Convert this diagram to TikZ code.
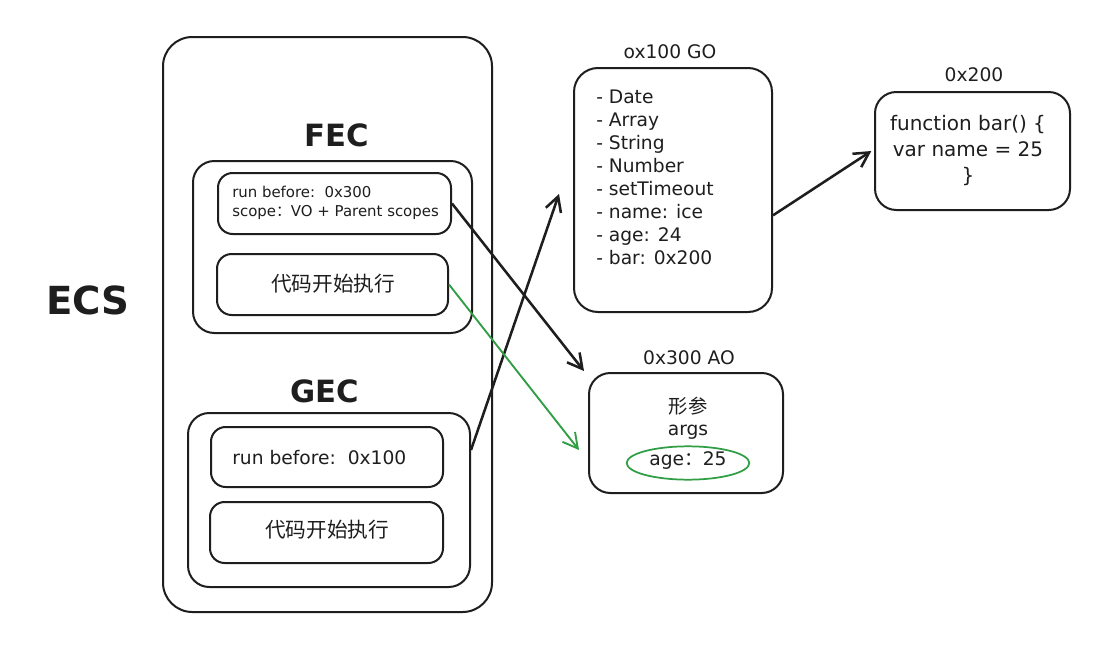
\documentclass[tikz,border=0pt]{standalone}
\usepackage{fontspec}
\setmainfont{DejaVu Sans}
\newfontfamily\cjk{Noto Sans CJK SC}
\usetikzlibrary{arrows.meta,shapes.geometric,fit}
\definecolor{ink}{HTML}{1E1E1E}
\definecolor{grn}{HTML}{2F9E44}
\begin{document}
\begin{tikzpicture}[x=0.75pt,y=-0.75pt,
  box/.style={draw=ink, line width=1.5pt, rounded corners=12pt, inner sep=0pt},
  lbl/.style={text=ink, inner sep=0pt},
  arr/.style={draw=ink, line width=1.9pt, -{Straight Barb[length=11pt,width=12pt]}},
  garr/.style={draw=grn, line width=1.4pt, -{Straight Barb[length=11pt,width=12pt]}},
  big/.style={font=\fontsize{29}{29}\selectfont\bfseries},
  head/.style={font=\fontsize{23}{23}\selectfont\bfseries},
  small/.style={font=\fontsize{11.2}{14.5}\selectfont},
  mid/.style={font=\fontsize{14}{17.25}\selectfont},
  cjkt/.style={font=\cjk\fontsize{15.5}{16}\selectfont},
]
\useasboundingbox[fill=white] (0,0) rectangle (1118,664);

% ECS stack
\node[box, rounded corners=22pt, fit={(163,37)(492,612)}] (ecs) {};
\node[lbl, big] (ecslbl) at (88,300) {ECS};

% FEC
\node[lbl, head] (feclbl) at (337,135) {FEC};
\node[box, rounded corners=16pt, fit={(193,161)(472,333)}] (fec) {};
\node[box, rounded corners=11pt, fit={(218,173)(451,234)}] (fec1) {};
\node[lbl, small, anchor=west, align=left] (fec1t) at (232,203) {run before:~~0x300\\scope{\cjk ：}VO + Parent scopes};
\node[box, rounded corners=11pt, fit={(217,254)(448,315)}] (fec2) {};
\node[lbl, cjkt] (fec2t) at (333,284) {代码开始执行};

% GEC
\node[lbl, head] (geclbl) at (325,391) {GEC};
\node[box, rounded corners=16pt, fit={(188,413)(470,587)}] (gec) {};
\node[box, rounded corners=11pt, fit={(211,427)(443,487)}] (gec1) {};
\node[lbl, mid, anchor=west] (gec1t) at (232,458) {run before:~~0x100};
\node[box, rounded corners=11pt, fit={(210,502)(443,563)}] (gec2) {};
\node[lbl, cjkt] (gec2t) at (327,530) {代码开始执行};

% GO
\node[lbl, mid] (golbl) at (670,52) {ox100 GO};
\node[box, rounded corners=18pt, fit={(574,68)(772,312)}] (go) {};
\node[lbl, mid, anchor=north west, align=left] (got) at (596,90) {- Date\\- Array\\- String\\- Number\\- setTimeout\\- name: ice\\- age: 24\\- bar: 0x200};

% AO
\node[lbl, mid] (aolbl) at (689,358) {0x300 AO};
\node[box, rounded corners=16pt, fit={(589,373)(783,493)}] (ao) {};
\node[lbl, font=\cjk\fontsize{14.5}{16}\selectfont] (aot1) at (688,406) {形参};
\node[lbl, mid] (aot2) at (688,432) {args};
\node[lbl, mid] (aot3) at (688,461) {age{\cjk ：}25};
\node[draw=grn, line width=1.3pt, ellipse, minimum width=92pt, minimum height=25pt, inner sep=0pt] (ring) at (688,463) {};

% 0x200
\node[lbl, mid] (barlbl) at (974,75) {0x200};
\node[box, rounded corners=16pt, fit={(875,92)(1070,210)}] (bar) {};
\node[lbl, align=center, font=\fontsize{15}{19.5}\selectfont] (bart) at (968,151) {function bar() \{\\var name = 25\\\}};

% connectors
\coordinate (goin) at (559,194);
\coordinate (aoin) at (579,450);
\draw[arr] ([yshift=37.5pt]gec.east) -- (goin);
\draw[arr] (fec1.east) -- ([shift={(-4,-1)}]ao.north west);
\draw[garr] (fec2.east) -- (aoin);
\draw[arr] ([yshift=-19pt]go.east) -- ([xshift=-2pt]bar.west);
\end{tikzpicture}
\end{document}
